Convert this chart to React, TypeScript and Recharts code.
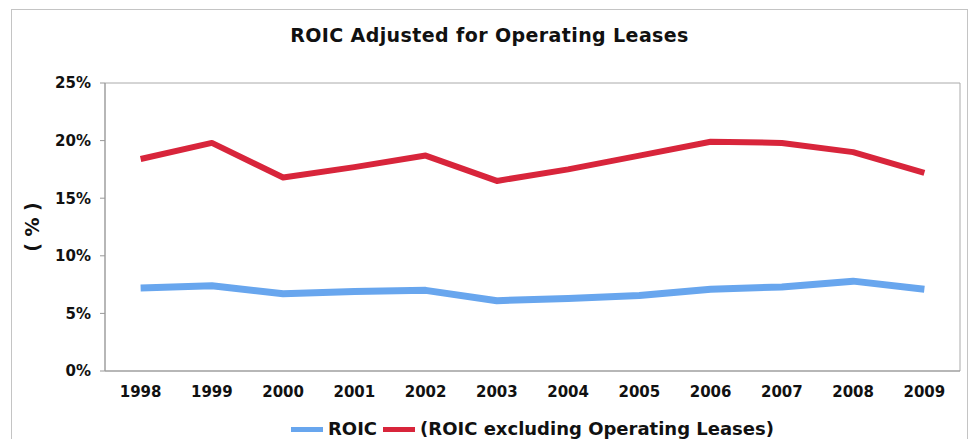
import React from 'react';
import { LineChart, Line, XAxis, YAxis, Legend, ReferenceArea } from 'recharts';

const years = ['1998', '1999', '2000', '2001', '2002', '2003', '2004', '2005', '2006', '2007', '2008', '2009'];
const roic = [7.2, 7.4, 6.7, 6.9, 7.0, 6.1, 6.3, 6.55, 7.1, 7.3, 7.8, 7.1];
const roicExLeases = [18.4, 19.8, 16.8, 17.7, 18.7, 16.5, 17.5, 18.7, 19.9, 19.8, 19.0, 17.2];
const yTicks = [0, 5, 10, 15, 20, 25];
const boundaryTicks = [0, 1, 2, 3, 4, 5, 6, 7, 8, 9, 10, 11, 12];

const data = years.map((y, i) => ({ year: y, roic: roic[i], ex: roicExLeases[i] }));

const BLUE = '#68a6ee';
const RED = '#d8253b';
const FONT = '"DejaVu Sans", Verdana, sans-serif';

const LegendContent = () => (
  <div style={{ display: 'flex', alignItems: 'center', justifyContent: 'center', fontFamily: FONT, fontWeight: 'bold', fontSize: 18, color: '#111', lineHeight: '20px' }}>
    <span style={{ display: 'inline-block', width: 32, height: 5, background: BLUE, marginRight: 5 }} />
    <span style={{ marginRight: 6 }}>ROIC</span>
    <span style={{ display: 'inline-block', width: 32, height: 5, background: RED, marginRight: 5 }} />
    <span>(ROIC excluding Operating Leases)</span>
  </div>
);

export default function App() {
  return (
    <div style={{ position: 'absolute', left: 0, top: 0, width: 969, height: 439, background: '#fff', overflow: 'hidden' }}>
      <div style={{ position: 'absolute', left: 11, top: 9, width: 955, height: 460, border: '1px solid #c4c4c4' }} />
      <div style={{ position: 'absolute', left: 11, top: 24, width: 957, textAlign: 'center', fontFamily: FONT, fontWeight: 'bold', fontSize: 19, letterSpacing: 0.4, color: '#111' }}>
        ROIC Adjusted for Operating Leases
      </div>
      <div style={{ position: 'absolute', left: 0, top: 0 }}>
        <LineChart width={969} height={439} data={data} margin={{ top: 83, right: 9, bottom: 38, left: 11 }}>
          <XAxis xAxisId="b" type="number" domain={[0, 12]} ticks={boundaryTicks} tick={false} height={0} axisLine={false} tickLine={{ stroke: '#999' }} tickSize={5} allowDataOverflow />
          <XAxis dataKey="year" scale="band" height={30} axisLine={{ stroke: '#999' }} tickLine={false} tickSize={0} tickMargin={15} interval={0}
            tick={{ fontFamily: FONT, fontWeight: 'bold', fontSize: 15, fill: '#111' }} />
          <YAxis domain={[0, 25]} ticks={yTicks} width={94} axisLine={{ stroke: '#999' }} tickLine={{ stroke: '#999' }} tickSize={5} tickMargin={9}
            tickFormatter={(v) => `${v}%`} tick={{ fontFamily: FONT, fontWeight: 'bold', fontSize: 15, fill: '#111' }}
            label={{ value: '( % )', angle: -90, position: 'center', dx: -26, style: { fontFamily: FONT, fontWeight: 'bold', fontSize: 19, fill: '#111' } }} />
          <ReferenceArea y1={0} y2={25} fill="none" stroke="#aaa" strokeWidth={1} ifOverflow="visible" />
          <Line dataKey="roic" stroke={BLUE} strokeWidth={7} dot={false} isAnimationActive={false} strokeLinejoin="round" />
          <Line dataKey="ex" stroke={RED} strokeWidth={6} dot={false} isAnimationActive={false} strokeLinejoin="round" />
          <Legend verticalAlign="middle" align="center" layout="horizontal" content={<LegendContent />}
            wrapperStyle={{ top: 419, left: 105, width: 855 }} />
        </LineChart>
      </div>
    </div>
  );
}
